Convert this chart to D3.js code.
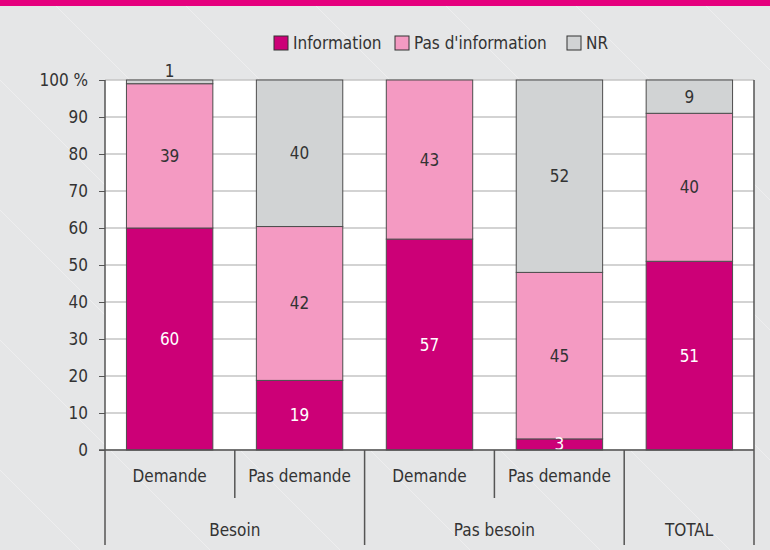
<!DOCTYPE html>
<html>
<head>
<meta charset="utf-8">
<script src="https://cdn.jsdelivr.net/npm/d3@7"></script>
<style>
  body { margin: 0; background: #e5e6e7; }
  svg text { font-family: "Liberation Sans Narrow", "DejaVu Sans Condensed", "Roboto Condensed", sans-serif; fill: #333; }
</style>
</head>
<body>
<svg id="chart" width="770" height="550"></svg>
<script>
// Chart data
const subLabels = ["Demande", "Pas demande", "Demande", "Pas demande", ""];
const groups = [
  { name: "Besoin", from: 0, to: 2 },
  { name: "Pas besoin", from: 2, to: 4 },
  { name: "TOTAL", from: 4, to: 5 }
];
const information = [60, 19, 57, 3, 51];
const pasInformation = [39, 42, 43, 45, 40];
const nr = [1, 40, 0, 52, 9];
const seriesNames = ["Information", "Pas d'information", "NR"];
const yTicks = [0, 10, 20, 30, 40, 50, 60, 70, 80, 90, 100];

const colors = ["#cc0077", "#f49ac2", "#d1d3d4"];

const svg = d3.select("#chart");
const W = 770, H = 550;
const pLeft = 105, pRight = 754, pTop = 80, pBottom = 450;

// background: faint diagonal lines
const bg = svg.append("g");
for (let i = -600; i < 900; i += 130) {
  bg.append("line")
    .attr("x1", i).attr("y1", 0).attr("x2", i + 550).attr("y2", 550)
    .attr("stroke", "#eeeeef").attr("stroke-width", 1);
}
svg.append("rect").attr("x", 0).attr("y", 0).attr("width", W).attr("height", 6).attr("fill", "#e5007e");

const x = d3.scaleBand().domain(d3.range(5)).range([pLeft, pRight]).paddingInner(0.335).paddingOuter(0.165);
const y = d3.scaleLinear().domain([0, 100]).range([pBottom, pTop]);

// plot area
svg.append("rect").attr("x", pLeft).attr("y", pTop).attr("width", pRight - pLeft).attr("height", pBottom - pTop).attr("fill", "#fff");

svg.append("g").selectAll("line").data(yTicks).join("line")
  .attr("x1", pLeft).attr("x2", pRight)
  .attr("y1", d => y(d)).attr("y2", d => y(d))
  .attr("stroke", "#c4c4c4").attr("stroke-width", 1.5);

// stacked data normalised to 100
const rows = d3.range(5).map(i => {
  const tot = information[i] + pasInformation[i] + nr[i];
  return { i, v: [information[i], pasInformation[i], nr[i]], tot };
});
const stack = d3.stack().keys([0, 1, 2]).value((d, k) => d.v[k] * 100 / d.tot);
const series = stack(rows);

const barG = svg.append("g");
series.forEach((s, k) => {
  barG.selectAll(null).data(s.filter(d => d.data.v[k] > 0)).join("rect")
    .attr("x", d => x(d.data.i))
    .attr("width", x.bandwidth())
    .attr("y", d => y(d[1]))
    .attr("height", d => y(d[0]) - y(d[1]))
    .attr("fill", colors[k])
    .attr("stroke", "#4d4d4d")
    .attr("stroke-width", 1);
});

// value labels
series.forEach((s, k) => {
  svg.append("g").selectAll("text").data(s.filter(d => d.data.v[k] > 0)).join("text")
    .attr("x", d => x(d.data.i) + x.bandwidth() / 2)
    .attr("y", d => {
      const h = y(d[0]) - y(d[1]);
      if (h < 8) return y(d[1]) - 3;
      return (y(d[0]) + y(d[1])) / 2 + 6;
    })
    .attr("text-anchor", "middle")
    .style("font-size", "17px")
    .style("fill", k === 0 ? "#fff" : "#333")
    .text(d => d.data.v[k]);
});

// y axis
const yAxis = svg.append("g").attr("transform", `translate(${pLeft},0)`)
  .call(d3.axisLeft(y).tickValues(yTicks).tickSize(6).tickPadding(11)
    .tickFormat(d => d === 100 ? "100 %" : d));
yAxis.select(".domain").remove();
yAxis.selectAll(".tick line").attr("stroke", "#555");
yAxis.selectAll(".tick text").style("font-size", "17px").attr("dy", "0.35em");

// frame lines
const frame = svg.append("g").attr("stroke", "#555").attr("stroke-width", 1.5);
frame.append("line").attr("x1", pLeft).attr("x2", pLeft).attr("y1", pTop).attr("y2", 545);
frame.append("line").attr("x1", pRight).attr("x2", pRight).attr("y1", pTop).attr("y2", 545);
frame.append("line").attr("x1", pLeft - 6).attr("x2", pRight).attr("y1", pBottom).attr("y2", pBottom);

// category separators
const cellLeft = i => pLeft + i * (pRight - pLeft) / 5;
const seps = [1, 3];
frame.selectAll(null).data(seps).join("line")
  .attr("x1", d => cellLeft(d)).attr("x2", d => cellLeft(d))
  .attr("y1", pBottom).attr("y2", 498);
frame.selectAll(null).data(groups.slice(1)).join("line")
  .attr("x1", d => cellLeft(d.from)).attr("x2", d => cellLeft(d.from))
  .attr("y1", pBottom).attr("y2", 545);

svg.append("g").selectAll("text").data(subLabels).join("text")
  .attr("x", (d, i) => x(i) + x.bandwidth() / 2)
  .attr("y", 482)
  .attr("text-anchor", "middle")
  .style("font-size", "17px")
  .text(d => d);

svg.append("g").selectAll("text").data(groups).join("text")
  .attr("x", d => (cellLeft(d.from) + cellLeft(d.to)) / 2)
  .attr("y", 536)
  .attr("text-anchor", "middle")
  .style("font-size", "17px")
  .text(d => d.name);

// legend
const legendX = [274, 395, 567];
const lg = svg.append("g");
seriesNames.forEach((n, k) => {
  lg.append("rect").attr("x", legendX[k]).attr("y", 36).attr("width", 14).attr("height", 14)
    .attr("fill", colors[k]).attr("stroke", "#333").attr("stroke-width", 1);
  lg.append("text").attr("x", legendX[k] + 19).attr("y", 49).style("font-size", "17px").text(n);
});
</script>
</body>
</html>
